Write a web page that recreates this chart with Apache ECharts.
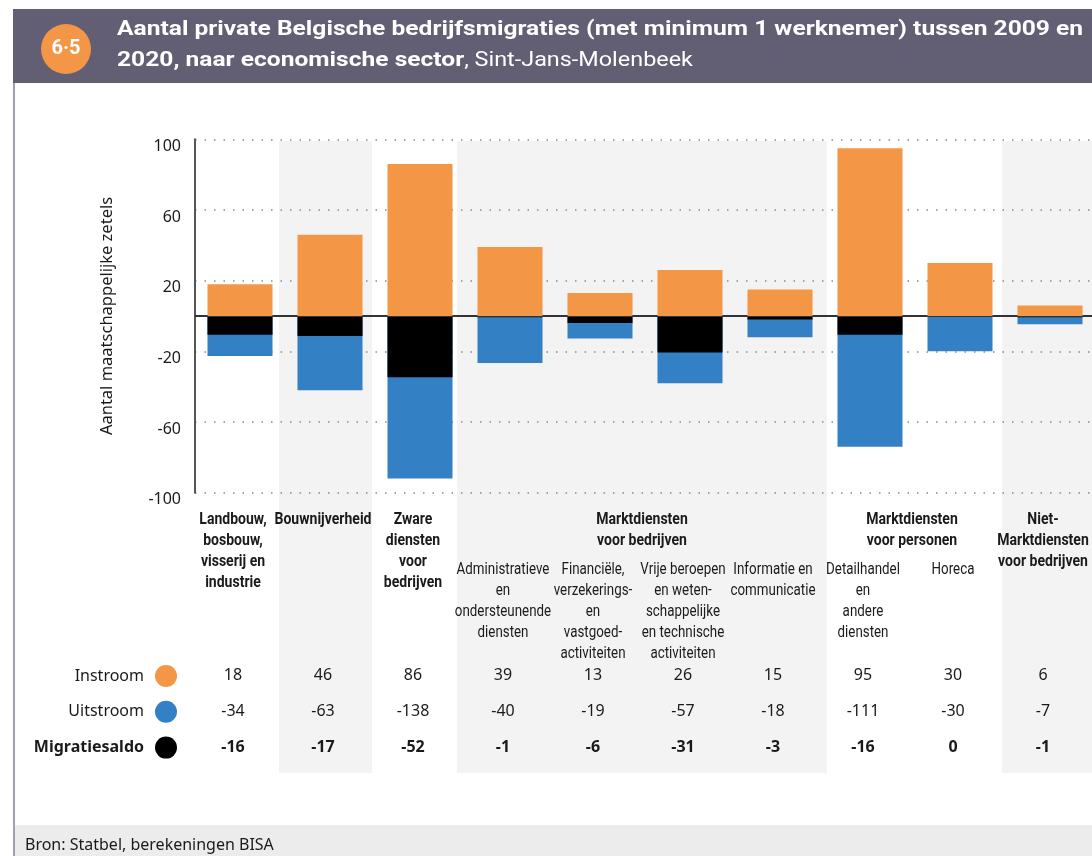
<!DOCTYPE html>
<html>
<head>
<meta charset="utf-8">
<script src="https://cdn.jsdelivr.net/npm/echarts@6/dist/echarts.min.js"></script>
<style>
html, body { margin: 0; padding: 0; background: #fff; }
#chart { width: 1092px; height: 856px; }
</style>
</head>
<body>
<div id="chart"></div>
<script>
// sectoren op de x-as
var sectors = [
  'Landbouw,\nbosbouw,\nvisserij en\nindustrie',
  'Bouwnijverheid',
  'Zware\ndiensten\nvoor\nbedrijven',
  'Administratieve\nen\nondersteunende\ndiensten',
  'Financiële,\nverzekerings-\nen\nvastgoed-\nactiviteiten',
  'Vrije beroepen\nen weten-\nschappelijke\nen technische\nactiviteiten',
  'Informatie en\ncommunicatie',
  'Detailhandel\nen\nandere\ndiensten',
  'Horeca',
  'Niet-\nMarktdiensten\nvoor bedrijven'
];
// subsectoren staan onder een groepstitel
var isSub = [false, false, false, true, true, true, true, true, true, false];
var groupTitles = ['Marktdiensten\nvoor bedrijven', 'Marktdiensten\nvoor personen'];
var groupFrom = [3, 7];
var groupTo = [6, 8];

var instroom = [18, 46, 86, 39, 13, 26, 15, 95, 30, 6];
var uitstroom = [-34, -63, -138, -40, -19, -57, -18, -111, -30, -7];
var saldo = [-16, -17, -52, -1, -6, -31, -3, -16, 0, -1];

var yTicks = ['-100', '-60', '-20', '20', '60', '100'];

var ORANGE = '#f39645';
var BLUE = '#3380c4';
var COND = 'Roboto';
var BODY = "'Noto Sans', sans-serif";
var TXT = '#1a1a1a';

var chart = echarts.init(document.getElementById('chart'));

function rowAxis (offset, values, bold) {
  return {
    gridIndex: 0,
    type: 'category',
    data: sectors,
    position: 'bottom',
    offset: offset,
    z: 3,
    axisLine: { show: false },
    axisTick: { show: false },
    axisLabel: {
      interval: 0,
      margin: 0,
      verticalAlign: 'middle',
      padding: [0, 14, 0, 0],
      fontFamily: BODY,
      fontSize: 16,
      fontWeight: bold ? 'bold' : 'normal',
      color: TXT,
      formatter: function (v, i) { return String(values[i]); }
    }
  };
}

var option = {
  animation: false,
  backgroundColor: '#fff',
  grid: [
    { left: 195, right: -3, top: 139.3, height: 353.4, outerBoundsMode: 'none', containLabel: false },
    { left: 195, right: -3, top: 141, height: 632, outerBoundsMode: 'none', containLabel: false }
  ],
  legend: {
    orient: 'vertical',
    align: 'right',
    right: 910,
    top: 660,
    itemWidth: 22,
    itemHeight: 22,
    itemGap: 13.8,
    icon: 'circle',
    selectedMode: false,
    textStyle: { fontFamily: BODY, fontSize: 16, color: TXT, padding: [0, 6, 0, 0] },
    data: [
      { name: 'Instroom' },
      { name: 'Uitstroom' },
      { name: 'Migratiesaldo', textStyle: { fontWeight: 'bold' } }
    ]
  },
  xAxis: [
    {
      gridIndex: 0,
      type: 'category',
      data: sectors,
      position: 'bottom',
      axisLine: { show: false },
      axisTick: { show: false },
      axisLabel: { show: false }
    },
    rowAxis(183, instroom, false),
    rowAxis(218.7, uitstroom, false),
    rowAxis(254.7, saldo, true),
    { gridIndex: 1, type: 'value', min: -0.5, max: 9.5, show: false }
  ],
  yAxis: [
    {
      gridIndex: 0,
      type: 'category',
      data: yTicks,
      boundaryGap: false,
      z: 2,
      name: 'Aantal maatschappelijke zetels',
      nameLocation: 'middle',
      nameGap: 79,
      nameRotate: 90,
      nameMoveOverlap: false,
      nameTextStyle: { fontFamily: BODY, fontSize: 16.5, color: TXT },
      axisLine: { show: true, lineStyle: { color: '#555', width: 2 } },
      axisTick: { show: false },
      axisLabel: {
        interval: 0,
        margin: 14,
        verticalAlign: 'top',
        lineHeight: 14,
        fontFamily: BODY,
        fontSize: 16,
        color: TXT
      },
      splitLine: {
        show: true,
        interval: 0,
        lineStyle: { color: '#8a8a8a', width: 1.5, type: [1.5, 8] }
      }
    },
    { gridIndex: 0, type: 'value', min: -100, max: 100, show: false },
    { gridIndex: 0, type: 'value', min: -150, max: 150, show: false },
    { gridIndex: 1, type: 'value', min: 0, max: 1, show: false }
  ],
  series: [
    {
      name: 'achtergrond',
      type: 'line',
      xAxisIndex: 4,
      yAxisIndex: 3,
      data: [],
      z: 0,
      silent: true,
      markArea: {
        silent: true,
        z: 0,
        itemStyle: { color: '#f3f3f3' },
        data: [
          [{ xAxis: 0.433 }, { xAxis: 1.467 }],
          [{ xAxis: 2.41 }, { xAxis: 6.52 }],
          [{ xAxis: 8.467 }, { xAxis: 9.5 }]
        ]
      }
    },
    {
      name: 'Uitstroom',
      type: 'bar',
      xAxisIndex: 0,
      yAxisIndex: 2,
      data: uitstroom,
      barWidth: 65,
      barGap: '-100%',
      itemStyle: { color: BLUE },
      z: 3
    },
    {
      name: 'Migratiesaldo',
      type: 'bar',
      xAxisIndex: 0,
      yAxisIndex: 2,
      data: saldo,
      barWidth: 65,
      barGap: '-100%',
      itemStyle: { color: '#000' },
      z: 4
    },
    {
      name: 'Instroom',
      type: 'bar',
      xAxisIndex: 0,
      yAxisIndex: 1,
      data: instroom,
      barWidth: 65,
      barGap: '-100%',
      itemStyle: { color: ORANGE },
      z: 5,
      markLine: {
        silent: true,
        symbol: ['none', 'none'],
        label: { show: false },
        lineStyle: { color: '#333', width: 2, type: 'solid' },
        data: [{ yAxis: 0 }]
      }
    }
  ],
  graphic: [
    { type: 'rect', shape: { x: 13, y: 9, width: 1085, height: 74 }, style: { fill: '#625e74' } },
    { type: 'rect', shape: { x: 13, y: 83, width: 2, height: 780 }, style: { fill: '#a39fb3' } },
    { type: 'rect', shape: { x: 15, y: 825, width: 1085, height: 40 }, style: { fill: '#ececec' } },
    { type: 'circle', shape: { cx: 66, cy: 49, r: 25 }, style: { fill: ORANGE } },
    {
      type: 'text', x: 66, y: 49,
      style: { text: '6·5', fill: '#fff', fontFamily: 'Roboto', fontWeight: 'bold', fontSize: 20, align: 'center', verticalAlign: 'middle' }
    },
    {
      type: 'text', x: 117, y: 30, scaleX: 1.17,
      style: {
        text: 'Aantal private Belgische bedrijfsmigraties (met minimum 1 werknemer) tussen 2009 en',
        fill: '#fff', fontFamily: 'Roboto', fontWeight: 'bold', fontSize: 21, verticalAlign: 'middle'
      }
    },
    {
      type: 'text', x: 117, y: 61, scaleX: 1.17,
      style: {
        text: '{b|2020, naar economische sector}{r|, Sint-Jans-Molenbeek}',
        verticalAlign: 'middle',
        rich: {
          b: { fill: '#fff', fontFamily: 'Roboto', fontWeight: 'bold', fontSize: 21 },
          r: { fill: '#fff', fontFamily: 'Roboto', fontSize: 20 }
        }
      }
    },
    {
      type: 'text', x: 25, y: 845,
      style: { text: 'Bron: Statbel, berekeningen BISA', fill: TXT, fontFamily: BODY, fontSize: 16, verticalAlign: 'middle' }
    }
  ]
};

chart.setOption(option);

// sectorlabels en groepstitels, smal gezet, op de positie van de categorie-as
function condText (x, y, text, bold) {
  return {
    type: 'text',
    x: x,
    y: y,
    z: 10,
    scaleX: bold ? 0.85 : 0.81,
    style: {
      text: text,
      fill: TXT,
      fontFamily: COND,
      fontWeight: bold ? 'bold' : 'normal',
      fontSize: 16.5,
      lineHeight: 21,
      align: 'center',
      verticalAlign: 'top'
    }
  };
}

var extra = [];
for (var i = 0; i < sectors.length; i++) {
  var cx = chart.convertToPixel({ xAxisIndex: 0 }, i) - 7;
  extra.push(condText(cx, isSub[i] ? 559.5 : 509.5, sectors[i], !isSub[i]));
}
for (var g = 0; g < groupTitles.length; g++) {
  var a = chart.convertToPixel({ xAxisIndex: 0 }, groupFrom[g]);
  var b = chart.convertToPixel({ xAxisIndex: 0 }, groupTo[g]);
  extra.push(condText((a + b) / 2 - 3, 509.5, groupTitles[g], true));
}
chart.setOption({ graphic: option.graphic.concat(extra) });
</script>
</body>
</html>
